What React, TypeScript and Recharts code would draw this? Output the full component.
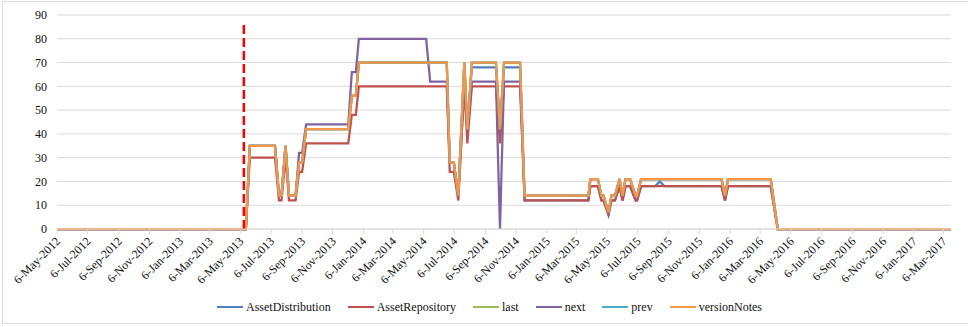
import { CartesianGrid, Legend, Line, LineChart, ReferenceLine, XAxis, YAxis } from 'recharts'

const serif = '"Liberation Serif", "Times New Roman", serif'

const months = ['Jan', 'Feb', 'Mar', 'Apr', 'May', 'Jun', 'Jul', 'Aug', 'Sep', 'Oct', 'Nov', 'Dec']

// breakpoints of the series (lines are straight between them)
const dates = [
  '2012-05-06', '2013-05-17', '2013-05-25', '2013-07-14', '2013-07-22', '2013-07-27',
  '2013-08-04', '2013-08-11', '2013-08-24', '2013-08-31', '2013-09-06', '2013-09-14',
  '2013-12-07', '2013-12-14', '2013-12-22', '2013-12-28', '2014-05-11', '2014-05-19',
  '2014-06-21', '2014-06-27', '2014-07-05', '2014-07-14', '2014-07-26', '2014-08-01',
  '2014-08-10', '2014-09-27', '2014-10-05', '2014-10-13', '2014-11-14', '2014-11-23',
  '2015-03-30', '2015-04-03', '2015-04-18', '2015-04-25', '2015-04-29', '2015-05-09',
  '2015-05-15', '2015-05-22', '2015-05-31', '2015-06-06', '2015-06-12', '2015-06-21',
  '2015-07-02', '2015-07-05', '2015-07-13', '2015-08-10', '2015-08-19', '2015-08-29',
  '2015-12-20', '2015-12-27', '2016-01-02', '2016-03-27', '2016-04-10', '2017-03-21',
]

const assetDistribution = [
  0, 0, 35, 35, 14, 14, 35, 14, 14, 28, 28, 42, 42, 56, 56, 70, 70, 70,
  70, 28, 28, 14, 70, 42, 68, 68, 42, 68, 68, 12, 12, 18, 18, 12, 12, 6,
  12, 12, 18, 12, 18, 18, 12, 12, 18, 18, 20, 18, 18, 12, 18, 18, 0, 0,
]
const assetRepository = [
  0, 0, 30, 30, 12, 12, 30, 12, 12, 24, 24, 36, 36, 48, 48, 60, 60, 60,
  60, 24, 24, 12, 60, 36, 60, 60, 36, 60, 60, 12, 12, 18, 18, 12, 12, 6,
  12, 12, 18, 12, 18, 18, 12, 12, 18, 18, 18, 18, 18, 12, 18, 18, 0, 0,
]
const last = [
  0, 0, 35, 35, 14, 14, 35, 14, 14, 28, 28, 42, 42, 56, 56, 70, 70, 70,
  70, 28, 28, 14, 70, 42, 70, 70, 42, 70, 70, 14, 14, 21, 21, 14, 14, 7,
  14, 14, 21, 14, 21, 21, 14, 14, 21, 21, 21, 21, 21, 14, 21, 21, 0, 0,
]
const next = [
  0, 0, 35, 35, 14, 14, 35, 14, 14, 32, 32, 44, 44, 66, 66, 80, 80, 62,
  62, 28, 28, 14, 62, 42, 62, 62, 0, 62, 62, 14, 14, 21, 21, 14, 14, 7,
  14, 14, 21, 14, 21, 21, 14, 14, 21, 21, 21, 21, 21, 14, 21, 21, 0, 0,
]
const prev = [
  0, 0, 35, 35, 14, 14, 35, 14, 14, 28, 28, 42, 42, 56, 56, 70, 70, 70,
  70, 28, 28, 14, 70, 42, 70, 70, 42, 70, 70, 14, 14, 21, 21, 14, 14, 7,
  14, 14, 21, 14, 21, 21, 14, 14, 21, 21, 21, 21, 21, 14, 21, 21, 0, 0,
]
const versionNotes = [
  0, 0, 35, 35, 14, 14, 35, 14, 14, 28, 28, 42, 42, 56, 56, 70, 70, 70,
  70, 28, 28, 14, 70, 42, 70, 70, 42, 70, 70, 14, 14, 21, 21, 14, 14, 7,
  14, 14, 21, 14, 21, 21, 14, 14, 21, 21, 21, 21, 21, 14, 21, 21, 0, 0,
]

const xTickLabels = [
  '6-May-2012', '6-Jul-2012', '6-Sep-2012', '6-Nov-2012',
  '6-Jan-2013', '6-Mar-2013', '6-May-2013', '6-Jul-2013', '6-Sep-2013', '6-Nov-2013',
  '6-Jan-2014', '6-Mar-2014', '6-May-2014', '6-Jul-2014', '6-Sep-2014', '6-Nov-2014',
  '6-Jan-2015', '6-Mar-2015', '6-May-2015', '6-Jul-2015', '6-Sep-2015', '6-Nov-2015',
  '6-Jan-2016', '6-Mar-2016', '6-May-2016', '6-Jul-2016', '6-Sep-2016', '6-Nov-2016',
  '6-Jan-2017', '6-Mar-2017',
]
const yTicks = [0, 10, 20, 30, 40, 50, 60, 70, 80, 90]

const markerDate = '2013-05-13'
const markerTop = 86

const series = [
  { key: 'AssetDistribution', values: assetDistribution, color: '#4F81BD' },
  { key: 'AssetRepository', values: assetRepository, color: '#C0504D' },
  { key: 'last', values: last, color: '#9BBB59' },
  { key: 'next', values: next, color: '#8064A2' },
  { key: 'prev', values: prev, color: '#4BACC6' },
  { key: 'versionNotes', values: versionNotes, color: '#F79646' },
]

function isoTime(s: string) {
  const [y, m, d] = s.split('-').map(Number)
  return Date.UTC(y, m - 1, d)
}

function labelTime(s: string) {
  const [d, mon, y] = s.split('-')
  return Date.UTC(Number(y), months.indexOf(mon), Number(d))
}

function formatTick(t: number) {
  const d = new Date(t)
  return `${d.getUTCDate()}-${months[d.getUTCMonth()]}-${d.getUTCFullYear()}`
}

const data = dates.map((d, i) => {
  const row: Record<string, number> = { t: isoTime(d) }
  series.forEach((s) => {
    row[s.key] = s.values[i]
  })
  return row
})

const xTicks = xTickLabels.map(labelTime)
const markerT = isoTime(markerDate)

function DateTick({ x, y, payload }: any) {
  const ax = x + 1
  const ay = y + 3
  return (
    <text
      x={ax}
      y={ay}
      dy="0.35em"
      textAnchor="end"
      transform={`rotate(-45 ${ax} ${ay})`}
      fill="#111"
      fontSize={12}
      fontFamily={serif}
    >
      {formatTick(payload.value)}
    </text>
  )
}

function LegendContent({ payload }: any) {
  return (
    <div
      style={{
        display: 'flex',
        alignItems: 'center',
        height: 20,
        paddingLeft: 217,
        fontFamily: serif,
        fontSize: 12,
        color: '#111',
      }}
    >
      {(payload || []).map((item: any) => (
        <div key={item.value} style={{ display: 'flex', alignItems: 'center', marginRight: 17 }}>
          <span style={{ display: 'inline-block', width: 26, height: 2.5, background: item.color, marginRight: 3 }} />
          <span>{item.value}</span>
        </div>
      ))}
    </div>
  )
}

export default function App() {
  return (
    <div style={{ position: 'absolute', left: 0, top: 0, width: 968, height: 327, overflow: 'hidden', background: '#fff' }}>
      <div
        style={{
          position: 'absolute',
          left: 2,
          top: 1,
          width: 1000,
          height: 323,
          border: '1px solid #d9d9d9',
          boxSizing: 'border-box',
        }}
      />
      <LineChart
        width={968}
        height={327}
        data={data}
        margin={{ top: 15, right: 17, bottom: 0, left: 0 }}
        style={{ position: 'absolute', left: 0, top: 0 }}
      >
        <CartesianGrid vertical={false} stroke="#d9d9d9" />
        <XAxis
          dataKey="t"
          type="number"
          domain={[isoTime(dates[0]), isoTime(dates[dates.length - 1])]}
          ticks={xTicks}
          interval={0}
          tick={<DateTick />}
          tickSize={5}
          stroke="#d9d9d9"
          height={78}
        />
        <YAxis
          domain={[0, 90]}
          ticks={yTicks}
          width={57}
          axisLine={false}
          tickLine={false}
          tickSize={6}
          tickMargin={4}
          tick={{ fill: '#111', fontSize: 12, fontFamily: serif }}
        />
        {series.map((s) => (
          <Line
            key={s.key}
            dataKey={s.key}
            type="linear"
            stroke={s.color}
            strokeWidth={2.25}
            dot={false}
            activeDot={false}
            isAnimationActive={false}
          />
        ))}
        <ReferenceLine
          segment={[
            { x: markerT, y: 0 },
            { x: markerT, y: markerTop },
          ]}
          stroke="#FF0000"
          strokeWidth={2.5}
          strokeDasharray="9 4"
        />
        <Legend content={<LegendContent />} verticalAlign="bottom" wrapperStyle={{ left: 0, top: 297, width: 968 }} />
      </LineChart>
    </div>
  )
}
